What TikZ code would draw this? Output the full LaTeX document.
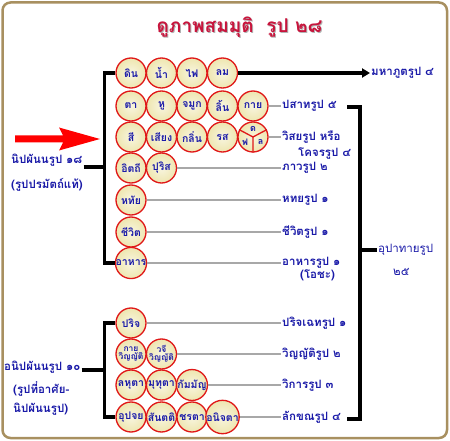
\documentclass[tikz,border=0pt]{standalone}
\usepackage{fontspec}
\newfontfamily\thaifont[Script=Thai]{Loma}
\usetikzlibrary{arrows.meta,calc}
\definecolor{tblue}{HTML}{1A1AA8}
\definecolor{cred}{HTML}{E01818}
\definecolor{ccream}{HTML}{EEE6B0}
\definecolor{frame}{HTML}{A89060}
\definecolor{ttl}{HTML}{C8143C}
\definecolor{glinec}{HTML}{A8A8A8}
\tikzset{
  cir/.style={circle, minimum size=30pt, inner sep=0pt, draw=cred, line width=1.3pt,
    shading=radial, inner color=white!60!ccream, outer color=ccream,
    text=tblue, font=\thaifont\bfseries\fontsize{10.5}{10.5}\selectfont},
  cirtwo/.style={cir, align=center, font=\thaifont\bfseries\fontsize{8.5}{8}\selectfont},
  lbl/.style={anchor=west, inner sep=1pt, text=tblue, font=\thaifont\bfseries\fontsize{11.5}{12}\selectfont},
  lbln/.style={anchor=west, inner sep=1pt, text=tblue, font=\thaifont\fontsize{11.5}{12}\selectfont},
  glink/.style={draw=glinec, line width=1.5pt},
  blk/.style={draw=black, line width=3.5pt},
  plet/.style={text=tblue, font=\thaifont\bfseries\fontsize{9}{9}\selectfont, inner sep=0pt},
}
\begin{document}
\begin{tikzpicture}[x=1pt,y=-1pt]
\useasboundingbox (0,0) rectangle (450,441);
\fill[white] (0,0) rectangle (450,441);
\draw[frame, line width=2.5pt, rounded corners=8pt] (2.5,2.5) rectangle (447,438);
% title
\node[text=gray!60, font=\thaifont\bfseries\fontsize{19}{20}\selectfont] at (240.5,28) {ดูภาพสมมุติ\ \ รูป ๒๘};
\node[text=ttl, font=\thaifont\bfseries\fontsize{19}{20}\selectfont] (title) at (239.5,27) {ดูภาพสมมุติ\ \ รูป ๒๘};
% red arrow
\fill[red] (15,135.5) -- (63,135.5) -- (59,127.5) -- (100,139) -- (59,150.5) -- (63,142.5) -- (15,142.5) -- cycle;
% upper circles
\node[cir] (din) at (131,73) {ดิน};
\node[cir] (nam) at (161.5,73) {น้ำ};
\node[cir] (fai) at (192,73) {ไฟ};
\node[cir] (lom) at (222.5,73) {ลม};
\node[cir] (ta) at (131,106) {ตา};
\node[cir] (hu) at (161.5,106) {หู};
\node[cir] (chamuk) at (192,106) {จมูก};
\node[cir] (lin) at (222.5,106) {ลิ้น};
\node[cir] (kay) at (253,106) {กาย};
\node[cir] (si) at (131,137) {สี};
\node[cir] (siang) at (161.5,137) {เสียง};
\node[cir] (klin) at (192,137) {กลิ่น};
\node[cir] (rot) at (222.5,137) {รส};
\node[cir] (pho) at (253,137) {};
\draw[cred, line width=1.3pt] (pho.center) -- (pho.152) (pho.center) -- (pho.28) (pho.center) -- (pho.-90);
\node[plet] (pd) at ($(pho.center)+(0,-8.5)$) {ด};
\node[plet] (pf) at ($(pho.center)+(-8,5)$) {ฟ};
\node[plet] (pl) at ($(pho.center)+(7.5,5)$) {ล};
\node[cir] (itthi) at (131,168) {อิตถี};
\node[cir] (purit) at (161.5,168) {ปุริส};
\node[cir] (hathai) at (131,200) {หทัย};
\node[cir] (chiwit) at (131,232) {ชีวิต};
\node[cir] (ahan) at (131,263) {อาหาร};
% lower circles
\node[cir] (parij) at (131,323) {ปริจ};
\node[cirtwo] (kayw) at (131,354) {กาย\\วิญญัติ};
\node[cirtwo] (wachi) at (161.5,354) {วจี\\วิญญัติ};
\node[cir] (lahu) at (131,385) {ลหุตา};
\node[cir] (muthu) at (161.5,385) {มุทุตา};
\node[cir] (kam) at (192,385) {กัมมัญ};
\node[cir] (upa) at (131,417) {อุปจย};
\node[cir] (san) at (161.5,417) {สันตติ};
\node[cir] (chara) at (192,417) {ชรตา};
\node[cir] (anit) at (222.5,417) {อนิจตา};
% right labels
\node[lbl] (mahaphut) at (370,73) {มหาภูตรูป ๔};
\node[lbl] (pasat) at (281,106) {ปสาทรูป ๕};
\node[lbl] (wisai) at (281,137) {วิสยรูป หรือ};
\node[lbl] (kochon) at (297,154) {โคจรรูป ๔};
\node[lbl] (phawa) at (281,168) {ภาวรูป ๒};
\node[lbl] (hathairup) at (281,200) {หทยรูป ๑};
\node[lbl] (chiwitrup) at (281,232) {ชีวิตรูป ๑};
\node[lbl] (ahanrup) at (281,263) {อาหารรูป ๑};
\node[lbl] (ocha) at (299,275) {(โอชะ)};
\node[lbl] (parijrup) at (281,323) {ปริจเฉทรูป ๑};
\node[lbl] (winyat) at (281,354) {วิญญัติรูป ๒};
\node[lbl] (wikan) at (281,385) {วิการรูป ๓};
\node[lbl] (lakkhana) at (281,417) {ลักขณรูป ๔};
\node[lbln] (upathai) at (377,250) {อุปาทายรูป};
\node[lbln] (n25) at (392,272) {๒๕};
% left labels
\node[lbl] (nip) at (10,160) {นิปผันนรูป ๑๘};
\node[lbl] (nip2) at (10,185) {(รูปปรมัตถ์แท้)};
\node[lbl] (anip) at (3,367) {อนิปผันนรูป ๑๐};
\node[lbl] (anip2) at (12,389) {(รูปที่อาศัย-};
\node[lbl] (anip3) at (12,409) {นิปผันนรูป)};
% black brackets
\coordinate (bu) at (105,167);
\coordinate (bl) at (105,370);
\draw[blk] (din.west) -- ($(din.west)+(-11,0)$) |- (ahan.west);
\draw[blk] (nip.east |- bu) -- (bu);
\draw[blk] (parij.west) -- ($(parij.west)+(-11,0)$) |- (upa.west);
\draw[blk] (anip.east |- bl) -- (bl);
\draw[blk, -{Triangle[length=8pt,width=9pt]}] (lom.east) -- (mahaphut.west);
% right bracket
\coordinate (rtop) at (360,107);
\coordinate (rbot) at (360,419);
\coordinate (rmid) at (360,250);
\draw[blk] ($(rtop)+(-13,0)$) -- (rtop) -- (rbot) -- ($(rbot)+(-13,0)$);
\draw[blk] (rmid) -- (upathai.west);
% gray links
\draw[glink] (kay.east) -- (pasat.west);
\draw[glink] (pho.east) -- (wisai.west);
\draw[glink] (purit.east) -- (phawa.west);
\draw[glink] (hathai.east) -- (hathairup.west);
\draw[glink] (chiwit.east) -- (chiwitrup.west);
\draw[glink] (ahan.east) -- (ahanrup.west);
\draw[glink] (parij.east) -- (parijrup.west);
\draw[glink] (wachi.east) -- (winyat.west);
\draw[glink] (kam.east) -- (wikan.west);
\draw[glink] (anit.east) -- (lakkhana.west);
\end{tikzpicture}
\end{document}
